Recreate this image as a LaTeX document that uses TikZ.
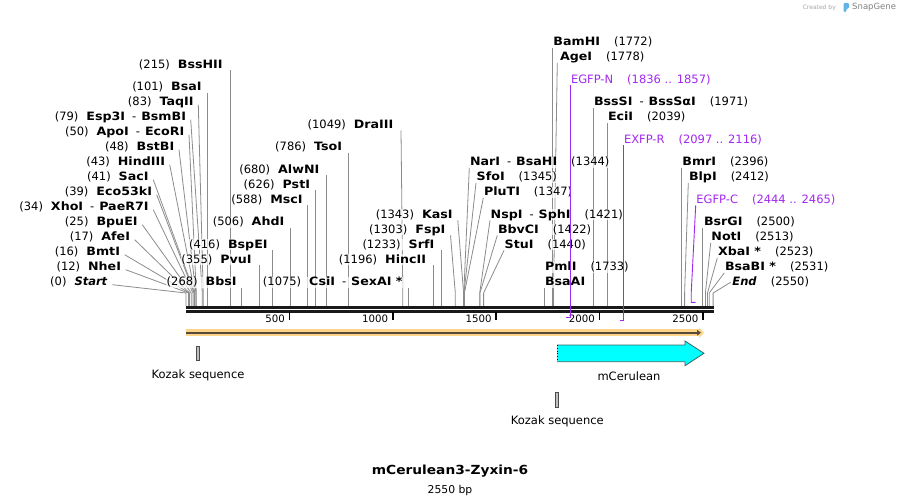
\documentclass[tikz,border=0pt]{standalone}
\usepackage{fontspec}
\setmainfont{DejaVu Sans}[BoldFeatures={FakeStretch=1.1}]
\usetikzlibrary{positioning,arrows.meta,backgrounds}

\definecolor{linegray}{RGB}{140,140,140}
\definecolor{primerpurple}{RGB}{163,40,240}
\definecolor{bandorange}{RGB}{253,212,138}
\definecolor{banddark}{RGB}{88,74,56}
\definecolor{cerulean}{RGB}{0,255,255}
\definecolor{ceruleanedge}{RGB}{60,100,100}
\definecolor{snapblue}{RGB}{96,180,230}

\newcommand{\enzsep}{\hspace{7pt}-\hspace{5pt}}
\newcommand{\numgap}{\hspace{14pt}}
\newcommand{\leftgap}{\hspace{8pt}}

\tikzset{
  enz/.style={font=\fontsize{11.5pt}{13pt}\selectfont, inner sep=0.5pt,
    text height=8.4pt, text depth=1.5pt, fill=white, fill opacity=0.7, text opacity=1},
  lenz/.style={enz, anchor=base east},
  renz/.style={enz, anchor=base west},
  primerlbl/.style={renz, text=primerpurple},
  cut/.style={draw=linegray, line width=0.8pt},
  primerline/.style={draw=primerpurple, line width=0.9pt},
  ticklbl/.style={font=\fontsize{10.2pt}{12pt}\selectfont, anchor=base east, inner sep=0pt},
  featlbl/.style={font=\fontsize{11.5pt}{13pt}\selectfont, inner sep=0pt},
  kozakbox/.style={draw=black!70, fill=black!25, line width=0.7pt, inner sep=0pt,
    minimum width=3pt, minimum height=14pt}
}

\begin{document}
\begin{tikzpicture}[x=1pt,y=-1pt]
\useasboundingbox (0,0) rectangle (901,503);

% cut positions on the map
\foreach \n/\x in {Start/186.0, NheI/188.5, BmtI/189.3, AfeI/189.5, BpuEI/191.2,
    XhoI/193.0, Eco53kI/194.1, SacI/194.5, HindIII/194.9, BstBI/195.9, ApoI/196.3,
    Esp3I/202.3, TaqII/203.2, BsaI/206.9, BssHII/230.4, BbsI/241.4, PvuI/259.4,
    BspEI/272.0, AhdI/290.6, MscI/307.5, PstI/315.4, AlwNI/326.6, TsoI/348.5,
    DraIII/402.8, CsiI/408.2, HincII/433.2, SrfI/440.9, FspI/455.3, KasI/463.6,
    NarI/463.8, SfoI/464.0, PluTI/464.4, NspI/479.7, BbvCI/479.9, StuI/483.6,
    BsaAI/544.2, BamHI/552.3, AgeI/553.5, EGFP-N/570.0, BssSI/593.4, EciI/607.5,
    EXFP-R/623.3, BmrI/681.3, BlpI/684.6, EGFP-C/691.2, BsrGI/702.8, NotI/705.4,
    XbaI/707.5, BsaBI/709.2, End/713.1}
  \coordinate (\n-x) at (\x,293);
\coordinate (bb) at (0,306);

% enzymes, left of their line
\node[lenz] (Start) at (108.3,285.7) {(0)\leftgap\textbf{\textit{Start}}};
\node[lenz] (NheI) at (121.7,270.7) {(12)\leftgap\textbf{NheI}};
\node[lenz] (BmtI) at (120.7,255.7) {(16)\leftgap\textbf{BmtI}};
\node[lenz] (AfeI) at (130.7,240.7) {(17)\leftgap\textbf{AfeI}};
\node[lenz] (BpuEI) at (138.3,225.7) {(25)\leftgap\textbf{BpuEI}};
\node[lenz] (XhoI) at (149.3,210.7) {(34)\leftgap\textbf{XhoI}\enzsep\textbf{PaeR7I}};
\node[lenz] (Eco53kI) at (152.7,195.7) {(39)\leftgap\textbf{Eco53kI}};
\node[lenz] (SacI) at (149.3,180.7) {(41)\leftgap\textbf{SacI}};
\node[lenz] (HindIII) at (165.7,165.7) {(43)\leftgap\textbf{HindIII}};
\node[lenz] (BstBI) at (175,150.7) {(48)\leftgap\textbf{BstBI}};
\node[lenz] (ApoI) at (185,135.7) {(50)\leftgap\textbf{ApoI}\enzsep\textbf{EcoRI}};
\node[lenz] (Esp3I) at (186.7,120.7) {(79)\leftgap\textbf{Esp3I}\enzsep\textbf{BsmBI}};
\node[lenz] (TaqII) at (194.3,105.7) {(83)\leftgap\textbf{TaqII}};
\node[lenz] (BsaI) at (202.3,90.7) {(101)\leftgap\textbf{BsaI}};
\node[lenz] (BssHII) at (223.3,68.2) {(215)\leftgap\textbf{BssHII}};
\node[lenz] (BbsI) at (237.3,285.7) {(268)\leftgap\textbf{BbsI}};
\node[lenz] (PvuI) at (252.3,263.2) {(355)\leftgap\textbf{PvuI}};
\node[lenz] (BspEI) at (268.3,248.2) {(416)\leftgap\textbf{BspEI}};
\node[lenz] (AhdI) at (285,225.7) {(506)\leftgap\textbf{AhdI}};
\node[lenz] (MscI) at (303.3,203.2) {(588)\leftgap\textbf{MscI}};
\node[lenz] (PstI) at (310.7,188.2) {(626)\leftgap\textbf{PstI}};
\node[lenz] (AlwNI) at (320,173.2) {(680)\leftgap\textbf{AlwNI}};
\node[lenz] (TsoI) at (342.7,150.7) {(786)\leftgap\textbf{TsoI}};
\node[lenz] (DraIII) at (394,128.2) {(1049)\leftgap\textbf{DraIII}};
\node[lenz] (CsiI) at (403.3,285.7) {(1075)\leftgap\textbf{CsiI}\enzsep\textbf{SexAI *}};
\node[lenz] (HincII) at (426.7,263.2) {(1196)\leftgap\textbf{HincII}};
\node[lenz] (SrfI) at (435,248.2) {(1233)\leftgap\textbf{SrfI}};
\node[lenz] (FspI) at (446,233.2) {(1303)\leftgap\textbf{FspI}};
\node[lenz] (KasI) at (453.3,218.2) {(1343)\leftgap\textbf{KasI}};

% enzymes, right of their line
\node[renz] (NarI) at (469.3,165.7) {\textbf{NarI}\enzsep\textbf{BsaHI}\numgap(1344)};
\node[renz] (SfoI) at (476,180.7) {\textbf{SfoI}\numgap(1345)};
\node[renz] (PluTI) at (483.3,195.7) {\textbf{PluTI}\numgap(1347)};
\node[renz] (NspI) at (490,218.2) {\textbf{NspI}\enzsep\textbf{SphI}\numgap(1421)};
\node[renz] (BbvCI) at (497.3,233.2) {\textbf{BbvCI}\numgap(1422)};
\node[renz] (StuI) at (504,248.2) {\textbf{StuI}\numgap(1440)};
\node[renz] (PmlI) at (544.3,270.7) {\textbf{PmlI}\numgap(1733)};
\node[renz] (BsaAI) at (544.3,285.7) {\textbf{BsaAI}};
\node[renz] (BamHI) at (552.7,45.7) {\textbf{BamHI}\numgap(1772)};
\node[renz] (AgeI) at (559.3,60.7) {\textbf{AgeI}\numgap(1778)};
\node[primerlbl] (EGFP-N) at (570.3,83.2) {EGFP-N\numgap(1836 .. 1857)};
\node[renz] (BssSI) at (593.3,105.7) {\textbf{BssSI}\enzsep\textbf{BssSαI}\numgap(1971)};
\node[renz] (EciI) at (607.3,120.7) {\textbf{EciI}\numgap(2039)};
\node[primerlbl] (EXFP-R) at (623.3,143.2) {EXFP-R\numgap(2097 .. 2116)};
\node[renz] (BmrI) at (681.7,165.7) {\textbf{BmrI}\numgap(2396)};
\node[renz] (BlpI) at (688.3,180.7) {\textbf{BlpI}\numgap(2412)};
\node[primerlbl] (EGFP-C) at (695.7,203.2) {EGFP-C\numgap(2444 .. 2465)};
\node[renz] (BsrGI) at (703.3,225.7) {\textbf{BsrGI}\numgap(2500)};
\node[renz] (NotI) at (710.7,240.7) {\textbf{NotI}\numgap(2513)};
\node[renz] (XbaI) at (717.3,255.7) {\textbf{XbaI *}\numgap(2523)};
\node[renz] (BsaBI) at (724.3,270.7) {\textbf{BsaBI *}\numgap(2531)};
\node[renz] (End) at (731.7,285.7) {\textbf{\textit{End}}\numgap(2550)};

% connectors behind the labels
\begin{scope}[on background layer]
\fill[white] (0,0) rectangle (901,503);
\foreach \n in {Start,NheI,BmtI,AfeI,BpuEI,XhoI,Eco53kI,SacI,HindIII,BstBI,ApoI,Esp3I,TaqII}
  \draw[cut] ([xshift=4pt,yshift=1pt]\n.base east) -- (\n-x) -- (\n-x |- bb);
\foreach \n in {BsaI,BssHII,BbsI,PvuI,BspEI,AhdI,MscI,PstI,AlwNI,TsoI,CsiI,HincII,SrfI}
  \draw[cut] (\n.south east -| \n-x) -- (\n-x |- bb);
\foreach \n/\s in {DraIII/7pt,FspI/4.5pt,KasI/4.5pt}
  \draw[cut] ([xshift=\s]\n.south east) -- (\n-x) -- (\n-x |- bb);
\foreach \n in {NarI,SfoI,PluTI,NspI,BbvCI,StuI,BlpI,NotI,XbaI,BsaBI}
  \draw[cut] (\n.south west) -- (\n-x) -- (\n-x |- bb);
\draw[cut] ([xshift=-2pt]AgeI.south west) -- (AgeI-x) -- (AgeI-x |- bb);
\draw[cut] ([xshift=-1pt]End.west) -- (End-x) -- (End-x |- bb);
\foreach \n in {BsaAI,BamHI,BssSI,EciI,BmrI,BsrGI}
  \draw[cut] (\n.south west -| \n-x) -- (\n-x |- bb);
\end{scope}

% backbone and ruler
\draw[line width=2.7pt, black!90] (186,307.3) -- (714.3,307.3);
\draw[line width=2.7pt, black!90] (186,311.3) -- (714.3,311.3);
\foreach \bp/\x in {500/289.4, 1000/392.7, 1500/496.0, 2000/599.4, 2500/702.8} {
  \draw[line width=1.7pt] (\x,312) -- (\x,320.3);
  \node[ticklbl] (tick\bp) at (\x-4.3,322.3) {\bp};
}

% primers
\coordinate (EGFP-N-foot) at (566.3,317);
\coordinate (EXFP-R-foot) at (619.5,320);
\coordinate (EGFP-C-foot) at (695.5,302.3);
\draw[primerline] (EGFP-N.south west -| EGFP-N-x) -- (EGFP-N-x |- EGFP-N-foot) -- (EGFP-N-foot);
\draw[primerline] (EXFP-R.south west -| EXFP-R-x) -- (EXFP-R-x |- EXFP-R-foot) -- (EXFP-R-foot);
\draw[primerline] (EGFP-C.south west) -- (EGFP-C-x) -- (EGFP-C-x |- EGFP-C-foot) -- (EGFP-C-foot);

% features
\draw[line width=6.7pt, bandorange, -{Triangle[length=5pt,width=10pt]}] (186,332.7) -- (704,332.7);
\draw[line width=2pt, banddark, -{Triangle[length=4pt,width=5.5pt]}] (186,332.7) -- (701,332.7);

\node[kozakbox] (kozak1) at (198,353.5) {};
\node[featlbl, below=9pt of kozak1] (kozak1-lbl) {Kozak sequence};

\draw[ceruleanedge, fill=cerulean, line width=0.8pt] (557,345) -- (685,345) -- (685,341)
  -- (704,353.3) -- (685,365.7) -- (685,361.7) -- (557,361.7);
\draw[black, dotted, line width=0.8pt] (557,345) -- (557,361.7);
\node[featlbl] (mCerulean-lbl) at (629,376) {mCerulean};

\node[kozakbox, minimum height=15pt] (kozak2) at (557.3,399.5) {};
\node[featlbl, below=8pt of kozak2] (kozak2-lbl) {Kozak sequence};

% title
\node[font=\bfseries\fontsize{12.5pt}{15pt}\selectfont] (title) at (450,471.5) {mCerulean3-Zyxin-6};
\node[font=\fontsize{10.8pt}{12pt}\selectfont, below=0.5pt of title] (length) {2550 bp};

% credit
\node[font=\fontsize{6pt}{7pt}\selectfont, text=black!35, anchor=east, inner sep=0pt] (createdby) at (836,7.5) {Created by};
\fill[snapblue, rounded corners=1.2pt] (843.5,3) -- (849,3) -- (849,8.5) -- (846.3,8.5) -- (846.3,12) -- (843.5,12) -- cycle;
\node[font=\fontsize{8.5pt}{10pt}\selectfont, text=black!50, anchor=west, inner sep=0pt] (snapgene) at (852,7.5) {SnapGene};
\end{tikzpicture}
\end{document}
